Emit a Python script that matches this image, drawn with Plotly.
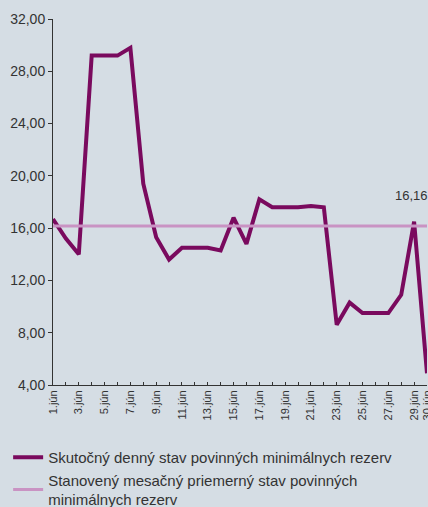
import plotly.graph_objects as go

# Dni v júni
days = list(range(1, 31))
day_labels = [f"{d}.jún" if (d % 2 == 1 or d == 30) else "" for d in days]

# Skutočný denný stav povinných minimálnych rezerv
actual = [16.7, 15.2, 14.0, 29.2, 29.2, 29.2, 29.8, 19.4, 15.3, 13.6,
          14.5, 14.5, 14.5, 14.3, 16.8, 14.8, 18.2, 17.6, 17.6, 17.6,
          17.7, 17.6, 8.6, 10.3, 9.5, 9.5, 9.5, 10.9, 16.5, 4.9]

# Stanovený mesačný priemerný stav
required_value = 16.16
required = [required_value] * len(days)

PURPLE = "#7A0A5E"
PINK = "#C993C3"
BG = "#D5DDE4"
TEXT = "#333333"

fig = go.Figure()
fig.add_trace(go.Scatter(
    x=days, y=actual, mode="lines",
    name="Skutočný denný stav povinných minimálnych rezerv",
    line=dict(color=PURPLE, width=4),
))
fig.add_trace(go.Scatter(
    x=days, y=required, mode="lines",
    name="Stanovený mesačný priemerný stav povinných<br>minimálnych rezerv",
    line=dict(color=PINK, width=3),
))

fig.add_annotation(
    x=29, y=required_value, text="16,16", showarrow=False,
    yshift=31, xshift=-3, font=dict(size=13, color=TEXT),
)

fig.update_layout(
    width=428, height=507,
    paper_bgcolor=BG, plot_bgcolor=BG,
    font=dict(family="Liberation Sans, Arial, sans-serif", color=TEXT, size=14),
    separators=",.",
    margin=dict(l=53, r=1, t=19, b=122, autoexpand=False),
    showlegend=True,
    legend=dict(
        xref="container", yref="container", x=0.019, y=0.13,
        xanchor="left", yanchor="top",
        bgcolor="rgba(0,0,0,0)", font=dict(size=15, color=TEXT),
        tracegroupgap=0, itemwidth=30,
    ),
)
fig.update_xaxes(
    range=[1, 30], tickmode="array", tickvals=days, ticktext=day_labels,
    tickangle=-90, tickfont=dict(size=11, color=TEXT),
    ticks="inside", ticklen=3, tickcolor=TEXT, ticklabeloverflow="allow",
    showline=True, linecolor=TEXT, linewidth=1,
    showgrid=False, zeroline=False, automargin=False,
)
fig.update_yaxes(
    range=[4, 32], dtick=4, tick0=4, tickformat=".2f",
    ticks="outside", ticklen=4, tickcolor=TEXT,
    tickfont=dict(size=14, color=TEXT),
    showline=True, linecolor=TEXT, linewidth=1,
    showgrid=False, zeroline=False, automargin=False,
)

fig.write_html(
    "out.html",
    config={"displayModeBar": False},
    post_script=f"document.body.style.margin='0';document.body.style.overflow='hidden';"
                f"document.body.style.background='{BG}';",
)
